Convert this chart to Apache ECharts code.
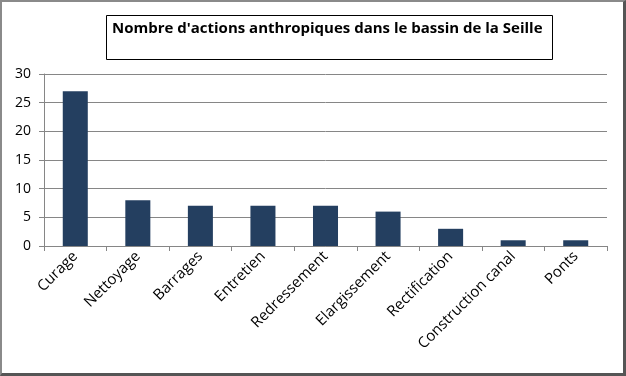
<!DOCTYPE html>
<html>
<head>
<meta charset="utf-8">
<script src="https://cdn.jsdelivr.net/npm/echarts@6/dist/echarts.min.js"></script>
<style>
	html, body { margin: 0; padding: 0; background: #fff; }
	#chart { width: 621px; height: 371px; border: 2px solid #8a8a8a; border-right: 3px solid #555; border-bottom: 3px solid #555; box-sizing: content-box; }
</style>
</head>
<body>
<div id="chart"></div>
<script>
var titleText = "Nombre d'actions anthropiques dans le bassin de la Seille";
var categories = ['Curage', 'Nettoyage', 'Barrages', 'Entretien', 'Redressement', 'Elargissement', 'Rectification', 'Construction canal', 'Ponts'];
var counts = [27, 8, 7, 7, 7, 6, 3, 1, 1];
var yTicks = [0, 5, 10, 15, 20, 25, 30];

var chart = echarts.init(document.getElementById('chart'));
var option = {
	animation: false,
	graphic: [{
		type: 'rect',
		left: 104,
		top: 13,
		shape: { width: 446, height: 44 },
		style: { fill: '#fff', stroke: '#000', lineWidth: 1 }
	}, {
		type: 'text',
		left: 110,
		top: 19,
		style: {
			text: titleText,
			font: 'bold 15px "Open Sans", sans-serif',
			fill: '#000'
		}
	}],
	grid: {
		left: 42,
		right: 16,
		top: 72,
		bottom: 127
	},
	xAxis: {
		type: 'category',
		data: categories,
		axisLine: { lineStyle: { color: '#868686' } },
		axisTick: { show: true, alignWithLabel: false, length: 5, lineStyle: { color: '#868686' } },
		axisLabel: {
			rotate: 45,
			interval: 0,
			color: '#000',
			fontSize: 15,
			fontFamily: '"Open Sans", sans-serif',
			margin: 8
		}
	},
	yAxis: {
		type: 'value',
		min: yTicks[0],
		max: yTicks[yTicks.length - 1],
		interval: 5,
		axisLine: { show: true, lineStyle: { color: '#868686' } },
		axisTick: { show: true, inside: false, length: 5, lineStyle: { color: '#868686' } },
		splitLine: { lineStyle: { color: '#868686', width: 1 } },
		axisLabel: {
			color: '#000',
			fontSize: 14,
			fontFamily: '"Open Sans", sans-serif',
			margin: 13
		}
	},
	series: [{
		type: 'bar',
		data: counts,
		barWidth: '40%',
		itemStyle: { color: '#243F60' }
	}]
};
chart.setOption(option);
</script>
</body>
</html>
